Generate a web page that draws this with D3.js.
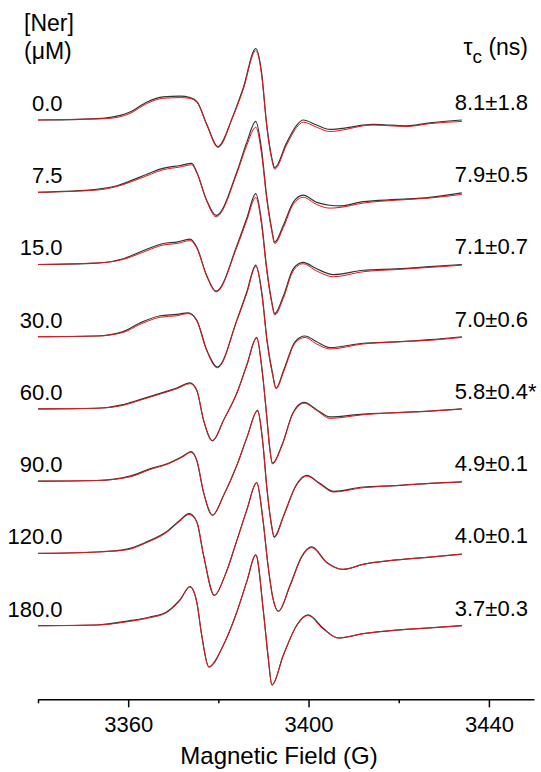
<!doctype html>
<html>
  <head>
    <meta charset="utf-8" />
    <title>EPR spectra vs nerol concentration</title>
    <script type="text/javascript" src="https://cdnjs.cloudflare.com/ajax/libs/d3/7.8.5/d3.min.js"></script>
    <style>
      body {
        margin:0;
        background:#fff;
      }
      svg text {
        font-family:"Liberation Sans", Arial, sans-serif;
        fill:#000;
      }
    </style>
  </head>
  <body>
    <div class="chart"></div>
    <script type="text/javascript">

/*nerol concentrations (uM), one per spectrum, top to bottom*/
var concentrations = ["0.0", "7.5", "15.0", "30.0", "60.0", "90.0", "120.0", "180.0"];

/*rotational correlation times read next to each spectrum*/
var tauValues = ["8.1\u00b11.8", "7.9\u00b10.5", "7.1\u00b10.7", "7.0\u00b10.6", "5.8\u00b10.4", "4.9\u00b10.1", "4.0\u00b10.1", "3.7\u00b10.3"];
var tauNotes = ["", "", "", "", "*", "", "", ""];

/*axis ticks (G)*/
var majorTicks = [3360, 3400, 3440];
var minorTicks = [3340, 3380, 3420];

/*spectra: [field (G), experiment, simulation] - amplitude in units of the stacking step*/
var ner0 = [[3340,0,0],[3349.3,0.01,0.01],[3355.3,0.03,0.02],[3360.4,0.11,0.09],[3364.2,0.25,0.23],[3367.7,0.32,0.30],[3371.5,0.33,0.31],[3373.7,0.31,0.30],[3375.3,0.25,0.24],[3377.5,-0.07,-0.08],[3379.9,-0.37,-0.38],[3383.2,0.05,0.04],[3385.5,0.44,0.42],[3388.3,0.99,0.96],[3389.6,0.65,0.62],[3390.7,-0.05,-0.07],[3391.8,-0.51,-0.53],[3392.5,-0.66,-0.68],[3395.1,-0.32,-0.35],[3397.4,-0.07,-0.10],[3398.8,0,-0.03],[3401.8,-0.07,-0.10],[3404.7,-0.13,-0.16],[3408.3,-0.11,-0.13],[3412.1,-0.07,-0.08],[3414.3,-0.06,-0.07],[3418.0,-0.07,-0.08],[3421.8,-0.08,-0.09],[3426.9,-0.04,-0.05],[3434.0,0,-0.02]];
var ner1 = [[3340,0,0],[3353.0,0.04,0.03],[3357.5,0.09,0.08],[3362.6,0.21,0.19],[3367.7,0.33,0.31],[3371.5,0.37,0.35],[3374.1,0.40,0.38],[3375.2,0.28,0.27],[3377.4,-0.11,-0.12],[3379.5,-0.32,-0.34],[3384.1,0.28,0.26],[3386.3,0.69,0.65],[3388.3,0.98,0.90],[3389.6,0.58,0.52],[3390.7,-0.05,-0.08],[3391.8,-0.50,-0.52],[3392.5,-0.69,-0.71],[3394.4,-0.46,-0.49],[3396.6,-0.14,-0.17],[3398.8,-0.04,-0.07],[3401.8,-0.14,-0.17],[3404.7,-0.18,-0.22],[3407.0,-0.19,-0.21],[3412.1,-0.13,-0.15],[3419.5,-0.10,-0.11],[3426.9,-0.07,-0.08],[3434.0,-0.01,-0.03]];
var ner2 = [[3340,0,0],[3353.0,0.02,0.02],[3358.9,0.08,0.07],[3363.3,0.19,0.17],[3367.8,0.29,0.27],[3370.8,0.31,0.29],[3373.7,0.35,0.33],[3375.2,0.24,0.23],[3377.4,-0.15,-0.16],[3379.5,-0.37,-0.38],[3384.1,0.26,0.24],[3386.3,0.64,0.61],[3388.3,0.98,0.93],[3389.6,0.58,0.54],[3390.7,-0.04,-0.07],[3391.8,-0.50,-0.52],[3392.5,-0.68,-0.70],[3394.4,-0.44,-0.47],[3396.6,-0.06,-0.09],[3398.8,0.03,0.01],[3401.8,-0.06,-0.09],[3405.5,-0.14,-0.17],[3412.1,-0.08,-0.10],[3419.5,-0.06,-0.07],[3426.9,-0.03,-0.04],[3434.0,0,-0.01]];
var ner3 = [[3340,0,0],[3353.0,0.01,0.01],[3358.9,0.07,0.06],[3362.6,0.19,0.17],[3367.1,0.29,0.27],[3370.8,0.31,0.29],[3373.3,0.33,0.32],[3375.2,0.23,0.22],[3377.4,-0.18,-0.19],[3379.8,-0.42,-0.43],[3384.1,0.23,0.22],[3386.3,0.62,0.60],[3388.3,0.99,0.97],[3389.7,0.58,0.56],[3390.8,-0.05,-0.07],[3392.0,-0.50,-0.52],[3392.8,-0.71,-0.72],[3394.5,-0.46,-0.48],[3397.0,-0.07,-0.09],[3399.2,0.01,-0.01],[3401.8,-0.07,-0.10],[3404.7,-0.15,-0.17],[3412.1,-0.09,-0.10],[3419.5,-0.07,-0.07],[3426.9,-0.04,-0.05],[3434.0,0,-0.01]];
var ner4 = [[3340,0,0],[3353.0,0.01,0.01],[3358.9,0.06,0.05],[3362.6,0.13,0.12],[3367.8,0.23,0.22],[3370.8,0.29,0.28],[3373.7,0.36,0.35],[3375.2,0.26,0.26],[3376.7,-0.15,-0.15],[3378.7,-0.44,-0.44],[3381.2,-0.15,-0.15],[3384.1,0.22,0.22],[3386.3,0.61,0.60],[3388.5,0.99,0.98],[3389.7,0.54,0.53],[3390.7,-0.08,-0.09],[3391.4,-0.54,-0.55],[3392.0,-0.75,-0.76],[3394.1,-0.50,-0.51],[3396.5,-0.06,-0.07],[3399.0,0.09,0.08],[3401.8,-0.01,-0.02],[3404.7,-0.11,-0.13],[3412.1,-0.07,-0.08],[3419.5,-0.05,-0.05],[3426.9,-0.03,-0.03],[3434.0,0,0]];
var ner5 = [[3340,0,0],[3353.0,0.01,0.01],[3360.4,0.07,0.06],[3364.8,0.17,0.16],[3369.3,0.26,0.25],[3372.2,0.35,0.34],[3373.9,0.41,0.40],[3375.2,0.29,0.29],[3376.7,-0.15,-0.15],[3378.7,-0.47,-0.47],[3381.2,-0.19,-0.19],[3384.1,0.22,0.22],[3386.3,0.60,0.60],[3388.7,0.98,0.97],[3389.8,0.57,0.56],[3390.8,-0.12,-0.12],[3391.7,-0.57,-0.58],[3392.4,-0.77,-0.78],[3394.5,-0.47,-0.48],[3397.2,-0.06,-0.07],[3399.6,0.08,0.07],[3402.5,-0.03,-0.04],[3405.5,-0.14,-0.15],[3412.1,-0.08,-0.09],[3419.5,-0.06,-0.06],[3426.9,-0.03,-0.03],[3434.0,-0.01,-0.01]];
var ner6 = [[3340,0,0],[3353.0,0.02,0.02],[3359.7,0.06,0.05],[3364.1,0.16,0.15],[3368.5,0.30,0.29],[3371.5,0.46,0.45],[3373.5,0.55,0.54],[3375.2,0.44,0.44],[3376.7,-0.02,-0.02],[3379.1,-0.58,-0.58],[3381.5,-0.30,-0.30],[3384.1,0.18,0.18],[3386.3,0.60,0.60],[3388.5,0.98,0.98],[3389.9,0.46,0.46],[3391.0,-0.16,-0.16],[3392.1,-0.62,-0.62],[3393.3,-0.80,-0.80],[3395.9,-0.44,-0.45],[3398.5,-0.04,-0.05],[3400.7,0.09,0.08],[3404.0,-0.12,-0.13],[3407.7,-0.22,-0.22],[3412.1,-0.15,-0.15],[3419.5,-0.09,-0.09],[3426.9,-0.05,-0.05],[3434.0,-0.01,-0.01]];
var ner7 = [[3340,0,0],[3353.0,0.01,0.01],[3360.4,0.07,0.06],[3364.8,0.12,0.11],[3368.5,0.19,0.18],[3371.5,0.36,0.35],[3373.7,0.54,0.54],[3375.2,0.33,0.33],[3376.3,-0.13,-0.13],[3377.9,-0.57,-0.57],[3381.1,-0.27,-0.27],[3384.1,0.19,0.19],[3386.3,0.61,0.61],[3388.3,0.98,0.98],[3390.0,0.19,0.19],[3391.0,-0.41,-0.41],[3391.9,-0.82,-0.82],[3394.4,-0.41,-0.41],[3397.4,0.01,0],[3399.9,0.15,0.14],[3403.3,-0.04,-0.05],[3406.6,-0.17,-0.17],[3412.1,-0.11,-0.11],[3419.5,-0.06,-0.06],[3426.9,-0.03,-0.03],[3434.0,0,0]];

var spectra = [ner0, ner1, ner2, ner3, ner4, ner5, ner6, ner7];

(function() {

var width = 541, height = 772;

function main() {

  var svg = d3.select(".chart").append("svg")
    .attr("width", width)
    .attr("height", height);

  /*field axis, and a stacked "amplitude" scale: trace i sits at -i*/
  var x = d3.scaleLinear().domain([3340, 3450]).range([38, 534]);
  var y = d3.scaleLinear().domain([0, -7]).range([120, 625.7]);

  function traceLine(col, i) {
    return d3.line()
      .x(function(d) { return x(d[0]); })
      .y(function(d) { return y(d[col] - i); })
      .curve(d3.curveMonotoneX);
  }

  var traces = svg.append("g").attr("class", "traces");

  spectra.forEach(function(s, i) {
    /*experimental spectrum first, simulated fit drawn over it*/
    traces.append("path")
      .attr("d", traceLine(1, i)(s))
      .attr("fill", "none")
      .attr("stroke", "#333")
      .attr("stroke-width", 1.2);
    traces.append("path")
      .attr("d", traceLine(2, i)(s))
      .attr("fill", "none")
      .attr("stroke", "#e8141c")
      .attr("stroke-width", 1);
  });

  /*left labels: concentration*/
  svg.append("g").selectAll("text")
    .data(concentrations)
    .join("text")
    .attr("x", 62.5)
    .attr("y", function(d, i) { return y(-i) - 9; })
    .attr("text-anchor", "end")
    .attr("font-size", 22)
    .text(function(d) { return d; });

  /*right labels: tau_c*/
  svg.append("g").selectAll("text")
    .data(tauValues)
    .join("text")
    .attr("x", 528)
    .attr("y", function(d, i) { return y(-i) - 10; })
    .attr("text-anchor", "end")
    .attr("font-size", 22)
    .text(function(d) { return d; });

  svg.append("g").selectAll("text")
    .data(tauNotes)
    .join("text")
    .attr("x", 528)
    .attr("y", function(d, i) { return y(-i) - 10; })
    .attr("font-size", 22)
    .text(function(d) { return d; });

  /*column headers*/
  svg.append("text")
    .attr("x", 24).attr("y", 31)
    .attr("font-size", 23)
    .text("[Ner]");
  svg.append("text")
    .attr("x", 24).attr("y", 59)
    .attr("font-size", 23)
    .text("(\u03bcM)");

  var tau = svg.append("text")
    .attr("x", 528).attr("y", 55)
    .attr("text-anchor", "end")
    .attr("font-size", 23);
  tau.append("tspan").text("\u03c4");
  tau.append("tspan").attr("dy", 8).attr("font-size", 19).text("c");
  tau.append("tspan").attr("dy", -8).text(" (ns)");

  /*bottom axis: labelled major ticks, short unlabelled minor ticks*/
  var axisY = 699.3;

  var major = svg.append("g")
    .attr("transform", "translate(0," + axisY + ")")
    .call(d3.axisBottom(x).tickValues(majorTicks).tickSize(8).tickSizeOuter(0).tickPadding(9).tickFormat(d3.format("d")));

  var minor = svg.append("g")
    .attr("transform", "translate(0," + axisY + ")")
    .call(d3.axisBottom(x).tickValues(minorTicks).tickSize(4).tickSizeOuter(0).tickFormat(""));
  minor.select(".domain").remove();

  [major, minor].forEach(function(g) {
    g.selectAll("path, line").attr("stroke", "#000").attr("stroke-width", 1.5);
  });
  major.selectAll("text")
    .attr("font-size", 22)
    .attr("font-family", "'Liberation Sans', Arial, sans-serif")
    .attr("fill", "#000");

  svg.append("text")
    .attr("x", 279).attr("y", 764)
    .attr("text-anchor", "middle")
    .attr("font-size", 24)
    .text("Magnetic Field (G)");
}

document.addEventListener("DOMContentLoaded", main);

})();
    </script>
  </body>
</html>
